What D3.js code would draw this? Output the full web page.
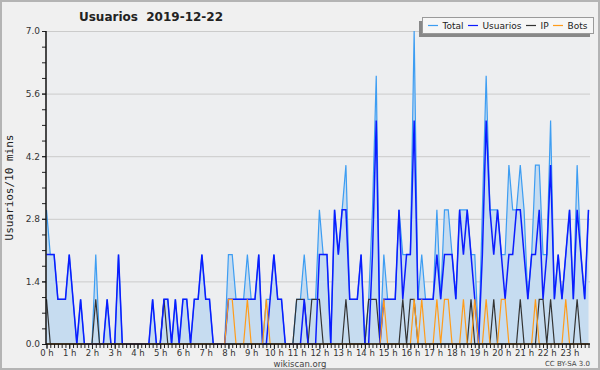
<!DOCTYPE html>
<html>
<head>
<meta charset="utf-8">
<script src="https://cdn.jsdelivr.net/npm/d3@7/dist/d3.min.js"></script>
<style>
    body { margin: 0; background: #f0f0f0; }
    svg { display: block; font-family: "DejaVu Sans", sans-serif; }
</style>
</head>
<body>
<svg id="chart" width="600" height="370"></svg>
<script>
// 10-minute steps over one day (144 points)
const hourLabels = d3.range(24).map(h => `${h} h`);
const yTicks = [0, 1.4, 2.8, 4.2, 5.6, 7.0];

const total = [
    3,2,2,1,1,1,2,1,0,1,0,0,
    0,2,0,0,1,0,0,2,0,0,0,0,
    0,0,0,0,1,0,0,1,1,0,1,0,
    1,1,0,1,1,2,1,1,0,0,0,0,
    2,2,1,1,1,2,1,1,2,0,1,1,
    2,1,1,0,0,0,1,1,2,1,1,1,
    3,2,2,0,3,2,3,4,1,1,1,2,
    0,1,3,6,0,2,1,1,1,3,2,2,
    2,7,1,2,1,1,1,3,1,3,3,2,
    1,3,3,3,2,2,0,3,6,3,3,3,
    2,2,4,3,3,4,3,1,2,4,4,2,
    2,5,1,2,1,2,3,1,4,2,1,3
];
const usuarios = [
    2,2,2,1,1,1,2,1,0,1,0,0,
    0,0,0,0,1,0,0,2,0,0,0,0,
    0,0,0,0,1,0,0,1,1,0,1,0,
    1,1,0,1,1,2,1,1,0,0,0,0,
    1,1,1,1,1,1,1,1,2,0,0,1,
    2,1,1,0,0,0,0,0,1,0,0,0,
    2,2,2,0,3,2,3,3,1,1,1,2,
    0,0,2,5,0,1,1,1,1,3,1,2,
    2,5,1,1,1,1,1,2,1,2,2,2,
    1,3,2,3,2,1,0,2,5,3,2,3,
    2,1,2,2,3,3,2,1,2,2,3,1,
    2,4,1,2,1,2,3,1,3,2,1,3
];
const ip = [
    1,0,0,0,0,0,0,0,0,0,0,0,
    0,1,0,0,0,0,0,0,0,0,0,0,
    0,0,0,0,0,0,0,1,0,0,0,0,
    0,0,0,0,0,0,0,0,0,0,0,0,
    0,0,0,0,0,0,0,0,0,0,0,0,
    0,0,0,0,0,0,1,1,1,0,1,1,
    1,0,0,0,0,0,0,1,0,0,0,0,
    0,1,1,1,0,0,0,0,0,0,1,0,
    1,1,0,0,0,0,0,0,0,0,0,0,
    0,0,0,0,1,0,0,0,0,0,1,0,
    0,0,0,0,0,1,0,0,0,0,1,1,
    0,1,0,0,0,0,0,0,1,0,0,0
];
const bots = [
    0,0,0,0,0,0,0,0,0,0,0,0,
    0,0,0,0,0,0,0,0,0,0,0,0,
    0,0,0,0,0,0,0,0,0,0,0,0,
    0,0,0,0,0,0,0,0,0,0,0,0,
    1,1,0,0,0,1,0,0,0,0,1,0,
    0,0,0,0,0,0,0,0,0,0,0,0,
    0,0,0,0,0,0,0,0,0,0,0,0,
    0,0,0,0,0,1,0,0,0,0,0,0,
    0,1,0,1,0,0,0,1,0,1,1,0,
    0,0,1,0,0,1,0,0,1,0,0,0,
    1,1,0,0,0,0,0,0,0,1,0,0,
    0,0,0,0,0,1,0,0,0,0,0,0
];

const series = [
    { name: "Total", values: total, color: "#3d9df2", width: 1.2 },
    { name: "IP", values: ip, color: "#333333", width: 1.2 },
    { name: "Usuarios", values: usuarios, color: "#0b1cff", width: 1.5 },
    { name: "Bots", values: bots, color: "#ff9c1a", width: 1.2 }
];
const legendOrder = ["Total", "Usuarios", "IP", "Bots"];

const svg = d3.select("#chart");
const plotLeft = 46, plotRight = 590, plotTop = 31, plotBottom = 344;

const x = d3.scaleLinear().domain([0, 143]).range([plotLeft + 0.5, 588.5]);
const y = d3.scaleLinear().domain([0, 7]).range([plotBottom, plotTop]);

// frame
svg.append("rect")
    .attr("x", 1).attr("y", 1)
    .attr("width", 598).attr("height", 368)
    .attr("fill", "#f0f0f0")
    .attr("stroke", "#b4b4b4")
    .attr("stroke-width", 2);

// plot background
svg.append("rect")
    .attr("x", plotLeft).attr("y", plotTop)
    .attr("width", plotRight - plotLeft).attr("height", plotBottom - plotTop)
    .attr("fill", "#edeef0");

// grid
svg.append("g")
    .selectAll("line")
    .data(yTicks.slice(1))
    .join("line")
    .attr("x1", plotLeft).attr("x2", plotRight)
    .attr("y1", d => y(d) + 0.5).attr("y2", d => y(d) + 0.5)
    .attr("stroke", "#cbcbcb")
    .attr("stroke-width", 1);

// Total area
const area = d3.area()
    .x((d, i) => x(i))
    .y0(y(0))
    .y1(d => y(d));

svg.append("path")
    .datum(total)
    .attr("d", area)
    .attr("fill", "#c6dcf0");

// Lines
const line = d3.line()
    .x((d, i) => x(i))
    .y(d => y(d));

svg.append("g")
    .selectAll("path")
    .data(series)
    .join("path")
    .attr("d", d => line(d.values))
    .attr("fill", "none")
    .attr("stroke", d => d.color)
    .attr("stroke-width", d => d.width)
    .attr("stroke-linejoin", "miter");

// Y axis
const yAxisMinor = d3.axisLeft(y)
    .tickValues(d3.range(0, 21).map(k => k * 0.35))
    .tickSize(4)
    .tickFormat("");
svg.append("g")
    .attr("transform", `translate(${plotLeft},0)`)
    .call(yAxisMinor)
    .call(g => g.select(".domain").remove())
    .call(g => g.selectAll("line").attr("stroke", "#222"));

const yAxis = d3.axisLeft(y)
    .tickValues(yTicks)
    .tickSize(4)
    .tickPadding(2)
    .tickFormat(d3.format(".1f"));
svg.append("g")
    .attr("transform", `translate(${plotLeft},0)`)
    .call(yAxis)
    .call(g => g.select(".domain").remove())
    .call(g => g.selectAll("line").attr("stroke", "#222"))
    .call(g => g.selectAll("text")
        .attr("fill", "#333")
        .style("font-size", "9px")
        .style("font-family", "DejaVu Sans, sans-serif"));

// X axis
const xAxisMinor = d3.axisBottom(x)
    .tickValues(d3.range(0, 144))
    .tickSize(4)
    .tickFormat("");
svg.append("g")
    .attr("transform", `translate(0,${plotBottom})`)
    .call(xAxisMinor)
    .call(g => g.select(".domain").remove())
    .call(g => g.selectAll("line").attr("stroke", "#222"));

const xAxis = d3.axisBottom(x)
    .tickValues(d3.range(0, 144, 6))
    .tickSize(5)
    .tickPadding(1)
    .tickFormat((d, i) => hourLabels[i]);
svg.append("g")
    .attr("transform", `translate(0,${plotBottom})`)
    .call(xAxis)
    .call(g => g.select(".domain").remove())
    .call(g => g.selectAll("line").attr("stroke", "#222"))
    .call(g => g.selectAll("text")
        .attr("fill", "#333")
        .style("font-size", "8.5px")
        .style("font-family", "DejaVu Sans, sans-serif"));

// axis lines
svg.append("line")
    .attr("x1", plotLeft).attr("x2", plotLeft)
    .attr("y1", plotTop).attr("y2", plotBottom + 1)
    .attr("stroke", "#111").attr("stroke-width", 1.5);
svg.append("line")
    .attr("x1", plotLeft).attr("x2", plotRight)
    .attr("y1", plotBottom).attr("y2", plotBottom)
    .attr("stroke", "#111").attr("stroke-width", 1.5);

// Title
svg.append("text")
    .attr("x", 151).attr("y", 21)
    .attr("text-anchor", "middle")
    .style("font-size", "12px")
    .style("font-weight", "bold")
    .attr("fill", "#222")
    .attr("xml:space", "preserve")
    .text("Usuarios  2019-12-22");

// Y label
svg.append("text")
    .attr("transform", `translate(13,${(plotTop + plotBottom) / 2}) rotate(-90)`)
    .attr("text-anchor", "middle")
    .style("font-size", "11px")
    .style("font-family", "DejaVu Sans Mono, monospace")
    .attr("fill", "#222")
    .text("Usuarios/10 mins");

// footer
svg.append("text")
    .attr("x", 300).attr("y", 366.5)
    .attr("text-anchor", "middle")
    .style("font-size", "8.5px")
    .attr("fill", "#444")
    .text("wikiscan.org");
svg.append("text")
    .attr("x", 590).attr("y", 366)
    .attr("text-anchor", "end")
    .style("font-size", "7px")
    .attr("fill", "#444")
    .text("CC BY-SA 3.0");

// Legend
const legend = svg.append("g").attr("transform", "translate(422,17)");
legend.append("rect")
    .attr("x", -3).attr("y", 4)
    .attr("width", 171).attr("height", 16)
    .attr("fill", "#888");
legend.append("rect")
    .attr("x", 0.5).attr("y", 0.5)
    .attr("width", 171).attr("height", 16)
    .attr("fill", "#f6f6f6")
    .attr("stroke", "#9a9a9a");

const legendX = [6, 46, 104, 131];
const bySeries = Object.fromEntries(series.map(s => [s.name, s]));
const item = legend.selectAll("g.item")
    .data(legendOrder)
    .join("g")
    .attr("class", "item")
    .attr("transform", (d, i) => `translate(${legendX[i]},0)`);
item.append("line")
    .attr("x1", 0).attr("x2", 10)
    .attr("y1", 8.5).attr("y2", 8.5)
    .attr("stroke", d => bySeries[d].color)
    .attr("stroke-width", 1.2);
item.append("text")
    .attr("x", 14.5).attr("y", 12)
    .style("font-size", "9px")
    .attr("fill", "#222")
    .text(d => d);
</script>
</body>
</html>
